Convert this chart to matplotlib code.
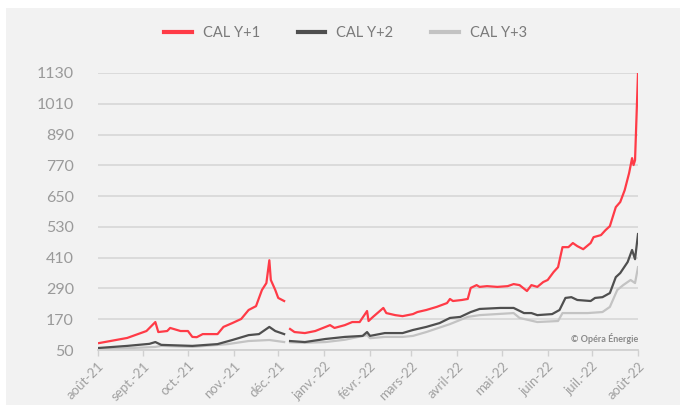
#!/usr/bin/env python3
"""
Prix CAL Y+1 / Y+2 / Y+3 (aout 2021 - aout 2022), redraw of the Opera Energie chart.
"""

import matplotlib

matplotlib.use("Agg")

import matplotlib.pyplot as plt
import numpy as np
import pandas as pd
from matplotlib.patches import Rectangle

OUT_PATH = "out.png"

# --- data (NaN = gap in the series) ---
y1_dates = [
    "2021-08-02", "2021-08-21", "2021-09-03", "2021-09-09", "2021-09-11", "2021-09-17",
    "2021-09-19", "2021-09-26", "2021-10-01", "2021-10-04", "2021-10-07", "2021-10-11",
    "2021-10-21", "2021-10-25", "2021-10-31", "2021-11-06", "2021-11-11", "2021-11-16",
    "2021-11-20", "2021-11-23", "2021-11-25", "2021-11-26", "2021-11-29", "2021-12-01",
    "2021-12-05", "2021-12-07", "2021-12-09", "2021-12-12", "2021-12-19", "2021-12-26",
    "2022-01-02", "2022-01-05", "2022-01-08", "2022-01-15", "2022-01-20", "2022-01-25",
    "2022-01-30", "2022-01-31", "2022-02-03", "2022-02-10", "2022-02-12", "2022-02-18",
    "2022-02-23", "2022-03-02", "2022-03-05", "2022-03-11", "2022-03-18", "2022-03-25",
    "2022-03-27", "2022-03-29", "2022-04-04", "2022-04-08", "2022-04-10", "2022-04-14",
    "2022-04-16", "2022-04-21", "2022-04-28", "2022-05-05", "2022-05-09", "2022-05-13",
    "2022-05-18", "2022-05-21", "2022-05-25", "2022-05-29", "2022-06-01", "2022-06-05",
    "2022-06-08", "2022-06-11", "2022-06-15", "2022-06-18", "2022-06-21", "2022-06-25",
    "2022-06-30", "2022-07-02", "2022-07-07", "2022-07-10", "2022-07-13", "2022-07-17",
    "2022-07-20", "2022-07-23", "2022-07-26", "2022-07-28", "2022-07-29", "2022-07-30",
    "2022-08-01",
]
y1_values = [
    77, 97, 124, 159, 120, 124,
    136, 124, 124, 101, 100, 112,
    112, 140, 155, 171, 206, 221,
    284, 311, 400, 323, 284, 253,
    241, np.nan, 132, 120, 116, 124,
    140, 147, 136, 147, 159, 159,
    202, 163, 179, 214, 194, 186,
    182, 190, 198, 206, 218, 233,
    249, 241, 245, 249, 292, 303,
    296, 299, 296, 299, 307, 303,
    280, 303, 296, 315, 323, 354,
    373, 451, 451, 467, 455, 443,
    467, 490, 498, 517, 533, 607,
    627, 673, 740, 798, 771, 790,
    1130,
]

y2_dates = [
    "2021-08-02", "2021-08-21", "2021-09-05", "2021-09-09", "2021-09-13", "2021-10-04",
    "2021-10-21", "2021-10-31", "2021-11-11", "2021-11-18", "2021-11-25", "2021-11-29",
    "2021-12-05", "2021-12-07", "2021-12-09", "2021-12-19", "2022-01-02", "2022-01-15",
    "2022-01-27", "2022-01-30", "2022-02-01", "2022-02-11", "2022-02-23", "2022-03-02",
    "2022-03-11", "2022-03-20", "2022-03-27", "2022-04-03", "2022-04-10", "2022-04-16",
    "2022-04-30", "2022-05-09", "2022-05-16", "2022-05-21", "2022-05-25", "2022-06-04",
    "2022-06-09", "2022-06-13", "2022-06-17", "2022-06-21", "2022-06-30", "2022-07-03",
    "2022-07-08", "2022-07-13", "2022-07-17", "2022-07-20", "2022-07-25", "2022-07-28",
    "2022-07-30", "2022-08-01",
]
y2_values = [
    58, 66, 74, 81, 70, 66,
    73, 89, 108, 112, 140, 124,
    112, np.nan, 85, 81, 93, 101,
    105, 120, 105, 116, 116, 128,
    140, 155, 175, 179, 198, 210,
    214, 214, 194, 194, 186, 190,
    206, 253, 256, 245, 241, 253,
    256, 272, 334, 350, 393, 440,
    404, 502,
]

y3_dates = [
    "2021-08-02", "2021-09-09", "2021-09-13", "2021-10-04", "2021-10-28", "2021-11-11",
    "2021-11-25", "2021-12-05", "2021-12-07", "2021-12-09", "2021-12-19", "2022-01-02",
    "2022-01-15", "2022-01-30", "2022-02-01", "2022-02-11", "2022-02-23", "2022-03-02",
    "2022-03-11", "2022-03-27", "2022-04-08", "2022-04-16", "2022-05-09", "2022-05-13",
    "2022-05-25", "2022-06-08", "2022-06-11", "2022-06-28", "2022-07-08", "2022-07-13",
    "2022-07-18", "2022-07-22", "2022-07-27", "2022-07-30", "2022-08-01",
]
y3_values = [
    52, 62, 66, 62, 73, 85,
    89, 81, np.nan, 80, 78, 81,
    90, 108, 96, 101, 101, 105,
    120, 151, 179, 186, 194, 175,
    159, 163, 194, 194, 198, 218,
    284, 303, 323, 311, 373,
]

series_labels = ["CAL Y+1", "CAL Y+2", "CAL Y+3"]
series_colors = ["#ff3b47", "#4f4f4f", "#c3c3c3"]

y_ticks = [50, 170, 290, 410, 530, 650, 770, 890, 1010, 1130]
month_labels = [
    "août-21", "sept.-21", "oct.-21", "nov.-21", "déc.-21", "janv.-22", "févr.-22",
    "mars-22", "avril-22", "mai-22", "juin-22", "juil.-22", "août-22",
]


def main() -> None:
    plt.rcParams["font.family"] = ["Lato", "DejaVu Sans"]

    fig = plt.figure(figsize=(6.8, 4.05), dpi=100, facecolor="white")
    fig.patches.append(
        Rectangle((6 / 680, 0), 1, 1 - 8 / 405, transform=fig.transFigure,
                  facecolor="#f2f2f2", edgecolor="none", zorder=-10)
    )

    ax = fig.add_axes([97.6 / 680, 1 - 350 / 405, (638 - 97.6) / 680, (350 - 73) / 405])
    ax.set_facecolor("none")

    all_series = [
        (y1_dates, y1_values),
        (y2_dates, y2_values),
        (y3_dates, y3_values),
    ]
    lines = {}
    # draw the lightest first so the red ends up on top
    for (dates, values), label, color in reversed(
        list(zip(all_series, series_labels, series_colors))
    ):
        (lines[label],) = ax.plot(pd.to_datetime(dates), values, color=color,
                                  linewidth=1.6, label=label, solid_joinstyle="round")

    month_ticks = pd.date_range("2021-08-01", "2022-08-01", freq="MS")
    ax.set_xlim(month_ticks[0], month_ticks[-1])
    ax.set_ylim(y_ticks[0], y_ticks[-1])
    ax.set_yticks(y_ticks)
    ax.set_xticks(month_ticks)
    ax.set_xticklabels(month_labels, rotation=45, ha="right", rotation_mode="anchor")

    ax.grid(axis="y", color="#d9d9d9", linewidth=1.3)
    ax.set_axisbelow(True)
    for side in ["left", "right", "top"]:
        ax.spines[side].set_visible(False)
    ax.spines["bottom"].set_color("#d0d0d0")
    ax.spines["bottom"].set_linewidth(1.3)

    ax.tick_params(axis="y", length=0, pad=17, labelsize=11.5, labelcolor="#9a9a9a")
    ax.tick_params(axis="x", length=4, color="#d0d0d0", width=1, pad=3,
                   labelsize=9.5, labelcolor="#a0a0a0")

    ax.text(1.0, 0.022, "© Opéra Énergie", transform=ax.transAxes, ha="right",
            va="bottom", fontsize=6.5, color="#8a8a8a", fontweight="bold")

    leg = fig.legend(
        [lines[lbl] for lbl in series_labels], series_labels, loc="center",
        bbox_to_anchor=(0.508, 1 - 33 / 405), ncol=3, frameon=False, fontsize=10.5,
        handlelength=1.9, handletextpad=0.75, columnspacing=2.6,
    )
    for line in leg.get_lines():
        line.set_linewidth(3)
    for text in leg.get_texts():
        text.set_color("#7a7a7a")

    fig.savefig(OUT_PATH, dpi=100, facecolor=fig.get_facecolor())
    plt.close(fig)


if __name__ == "__main__":
    main()
